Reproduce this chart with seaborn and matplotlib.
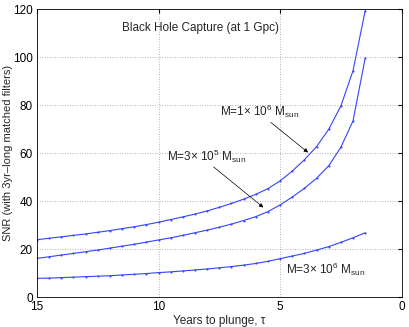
import numpy as np
import pandas as pd
import matplotlib
matplotlib.use("Agg")
import matplotlib.pyplot as plt
import seaborn as sns

years = [15, 14.5, 14, 13.5, 13, 12.5, 12, 11.5, 11, 10.5, 10, 9.5, 9, 8.5,
         8, 7.5, 7, 6.5, 6, 5.5, 5, 4.5, 4, 3.5, 3, 2.5, 2, 1.5]
snr_1e6 = [24.0, 24.6, 25.2, 25.8, 26.4, 27.1, 27.8, 28.6, 29.4, 30.3, 31.3, 32.4, 33.5, 34.7,
           36.0, 37.5, 39.1, 40.9, 42.9, 45.3, 48.5, 52.6, 57.3, 62.8, 70.0, 79.7, 94.4, 119.4]
snr_3e5 = [16.2, 16.9, 17.6, 18.3, 19.0, 19.7, 20.5, 21.3, 22.1, 23.0, 23.9, 24.8, 25.8, 26.9,
           28.0, 29.2, 30.5, 32.0, 33.6, 35.7, 38.5, 41.8, 45.4, 49.6, 54.8, 62.5, 73.5, 99.6]
snr_3e6 = [7.9, 8.0, 8.2, 8.4, 8.6, 8.8, 9.0, 9.3, 9.6, 9.9, 10.3, 10.6, 11.0, 11.4,
           11.8, 12.3, 12.8, 13.4, 14.1, 15.0, 16.1, 17.2, 18.3, 19.7, 21.1, 22.9, 24.8, 26.9]
series_names = ["1e6", "3e5", "3e6"]
x_ticks = [15, 10, 5, 0]
y_ticks = [0, 20, 40, 60, 80, 100, 120]

df = pd.concat([
    pd.DataFrame({"tau": years, "snr": v, "mass": n})
    for n, v in zip(series_names, [snr_1e6, snr_3e5, snr_3e6])
])

sns.set_style("white")
plt.rcParams['font.family'] = ['Liberation Sans', 'DejaVu Sans']
plt.rcParams['mathtext.fontset'] = 'custom'
plt.rcParams['mathtext.rm'] = 'Liberation Sans'
plt.rcParams['mathtext.it'] = 'Liberation Sans:italic'

fig = plt.figure(figsize=(4.09, 3.27), dpi=100)
ax = fig.add_axes([0.0905, 0.0908, 0.8915, 0.8808])

sns.lineplot(data=df, x="tau", y="snr", units="mass", estimator=None,
             color="#3344ff", lw=0.8, marker=".", markersize=3,
             markeredgewidth=0, sort=False, ax=ax)

ax.set_xlim(15, 0)
ax.set_ylim(0, 120)
ax.set_xticks(x_ticks)
ax.set_yticks(y_ticks)
ax.tick_params(direction="in", length=3, labelsize=8.5, colors="k",
               top=True, right=True, pad=3)
ax.grid(True, linestyle=(0, (1, 2)), color="#999999", lw=0.6)
for s in ax.spines.values():
    s.set_visible(True)
    s.set_color("k")
    s.set_linewidth(0.6)

ax.set_xlabel("Years to plunge, τ", fontsize=8.5, labelpad=1)
ax.set_ylabel("SNR (with 3yr\u2013long matched filters)", fontsize=8)
ax.yaxis.set_label_coords(-0.066, 0.5)

ax.text(11.5, 112, "Black Hole Capture (at 1 Gpc)", fontsize=8.5, va="center", ha="left")

ax.text(7.48, 77.3, r"M=1$\times$ 10$^6$ M$_{\rm sun}$", fontsize=8.5, va="center", ha="left")
ax.annotate("", xy=(3.76, 59.6), xytext=(5.47, 73.6),
            arrowprops=dict(arrowstyle="-|>", color="k", lw=0.5, mutation_scale=6))
ax.text(9.66, 58.9, r"M=3$\times$ 10$^5$ M$_{\rm sun}$", fontsize=8.5, va="center", ha="left")
ax.annotate("", xy=(5.6, 36.7), xytext=(7.83, 55.1),
            arrowprops=dict(arrowstyle="-|>", color="k", lw=0.5, mutation_scale=6))
ax.text(4.75, 11.7, r"M=3$\times$ 10$^6$ M$_{\rm sun}$", fontsize=8.5, va="center", ha="left")

fig.savefig("out.png", dpi=100)
